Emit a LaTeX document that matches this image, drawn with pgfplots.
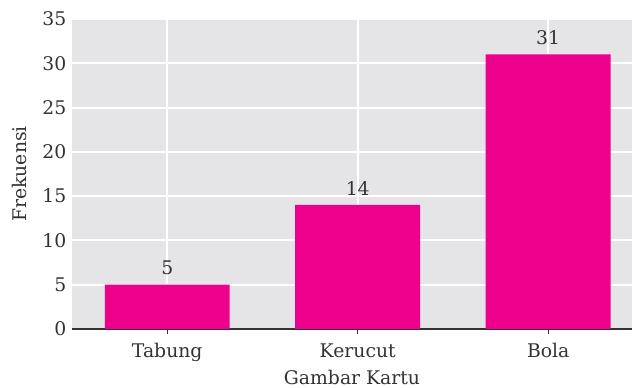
\documentclass[border=0pt]{standalone}
\usepackage{fontspec}
\setmainfont{DejaVu Serif}
\usepackage{pgfplots}
\pgfplotsset{compat=1.18}
\definecolor{bggray}{HTML}{E5E5E8}
\definecolor{barpink}{HTML}{EC008C}
\definecolor{txt}{HTML}{333333}
\begin{document}
\begin{tikzpicture}
\fontsize{9.4}{11}\selectfont
\begin{axis}[
    scale only axis,
    width=280pt, height=155pt,
    xmin=-0.5, xmax=2.44,
    ymin=0, ymax=35,
    xtick=data,
    xticklabels={Tabung, Kerucut, Bola},
    ytick={0,5,...,35},
    /pgf/number format/assume math mode=true,
    axis background/.style={fill=bggray},
    xmajorgrids, ymajorgrids,
    major grid style={white, line width=1pt},
    axis x line*=bottom,
    axis y line*=left,
    x axis line style={draw=txt, line width=0.9pt},
    y axis line style={draw=none},
    ytick style={draw=none},
    xtick style={draw=txt, line width=0.6pt},
    tick align=outside,
    major tick length=2.5pt,
    ticklabel style={font=\fontsize{9.4}{11}\selectfont, text=txt},
    yticklabel style={xshift=3pt},
    xticklabel style={yshift=-1.5pt},
    xlabel={Gambar Kartu},
    ylabel={Frekuensi},
    label style={font=\fontsize{9.4}{11}\selectfont, text=txt},
    xlabel style={yshift=2.5pt},
    ylabel style={yshift=1.5pt},
    nodes near coords,
    nodes near coords style={font=\fontsize{9.4}{11}\selectfont, text=txt, yshift=1.5pt},
    clip=false,
]
\addplot[ybar, bar width=0.656, fill=barpink, draw=none] coordinates {(0,5) (1,14) (2,31)};
\end{axis}
\pgfresetboundingbox
\useasboundingbox ([xshift=-36pt,yshift=-29.5pt]current axis.south west) rectangle ([yshift=9.5pt]current axis.north east);
\end{tikzpicture}
\end{document}
